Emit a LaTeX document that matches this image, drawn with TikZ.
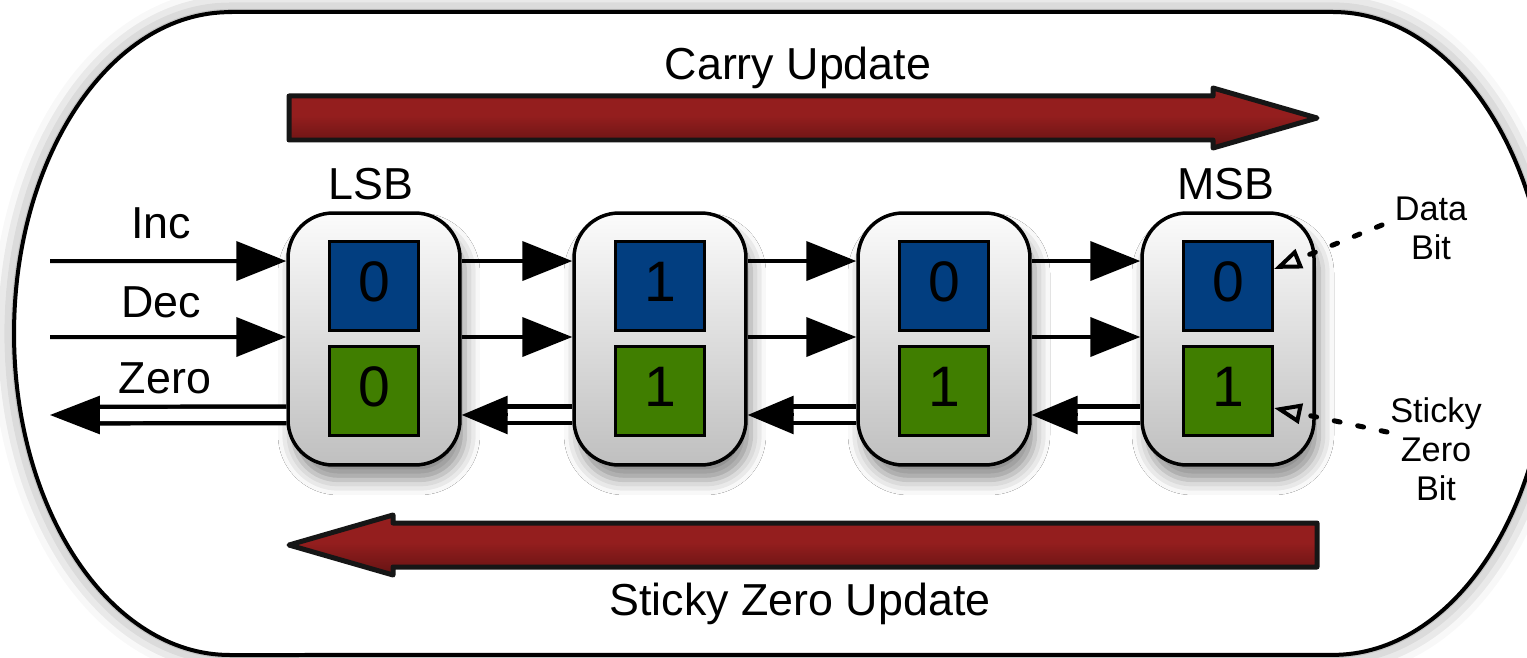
\documentclass[tikz,border=0pt]{standalone}
\usepackage{fontspec}
\setmainfont{Liberation Sans}
\usetikzlibrary{arrows.meta,shadows.blur}

\definecolor{bitblue}{RGB}{2,62,128}
\definecolor{bitgreen}{RGB}{64,126,0}
\definecolor{redtop}{RGB}{140,66,66}
\definecolor{redmid}{RGB}{148,30,30}
\definecolor{redlow}{RGB}{105,20,20}
\definecolor{redbot}{RGB}{66,10,10}
\definecolor{rim}{RGB}{22,22,22}

% vertical gradient of the two wide update arrows (bottom -> top)
\pgfdeclareverticalshading{redbar}{100bp}{
  color(0bp)=(redbot); color(28bp)=(redlow); color(52bp)=(redmid);
  color(70bp)=(redmid); color(100bp)=(redtop)}

\tikzset{
  outline/.style={draw=black, line width=0.08cm, fill=white,
    blur shadow={shadow xshift=0cm, shadow yshift=0cm,
      shadow blur radius=0.45cm, shadow opacity=45}},
  bigarrow/.style={draw=rim, line width=0.1cm, line join=round,
    shading=redbar},
  lbl/.style={font=\fontsize{25.5}{30}\selectfont, inner sep=0pt},
  smalllbl/.style={font=\fontsize{19.5}{22.2}\selectfont, inner sep=0pt, align=center},
  cell/.style={draw=black, line width=0.07cm, rounded corners=0.9cm,
    top color=gray!3, bottom color=gray!50,
    minimum width=3.44cm, minimum height=5.04cm, inner sep=0pt,
    blur shadow={shadow xshift=0.1cm, shadow yshift=-0.3cm,
      shadow blur radius=0.3cm, shadow opacity=45}},
  bitbox/.style={draw=black, line width=0.06cm, minimum width=1.78cm,
    minimum height=1.78cm, inner sep=0pt, text depth=0.16cm,
    font=\fontsize{32.5}{36}\selectfont},
  databit/.style={bitbox, fill=bitblue},
  zerobit/.style={bitbox, fill=bitgreen},
  sig/.style={draw=black, line width=0.08cm,
    -{Triangle[length=1.0cm, width=0.78cm, fill=black]}},
  zline/.style={draw=black, double=white, line width=0.09cm, double distance=0.24cm},
  ztip/.style={draw=black, line width=0.06cm,
    -{Triangle[length=0.92cm, width=0.76cm, fill=black]}},
  ztipout/.style={draw=black, line width=0.06cm,
    -{Triangle[length=1.0cm, width=0.76cm, fill=black]}},
  pointer/.style={draw=black, line width=0.1cm, line cap=round,
    dash pattern=on 0.12cm off 0.36cm,
    -{Triangle[open, length=0.55cm, width=0.4cm, line width=0.08cm]}},
}

\begin{document}
\begin{tikzpicture}[x=0.02cm, y=0.02cm]
\useasboundingbox (0,0) rectangle (1527,657);
\clip (0,0) rectangle (1527,657);

% rounded frame around the whole counter
\path[outline] (230,645) -- (1333,645)
  arc[start angle=90, end angle=-90, x radius=4.32cm, y radius=6.43cm]
  -- (230,2)
  arc[start angle=-90, end angle=-270, x radius=4.32cm, y radius=6.43cm]
  -- cycle;

% carry propagation (LSB -> MSB)
\draw[bigarrow] (289,561) -- (1213,561) -- (1213,569) -- (1317,539)
  -- (1213,509) -- (1213,517) -- (289,517) -- cycle;
\node[lbl, anchor=base] (carry) at (798,577) {Carry Update};

% sticky zero propagation (MSB -> LSB)
\draw[bigarrow] (1317,134) -- (393,134) -- (393,142) -- (289,112)
  -- (393,82) -- (393,90) -- (1317,90) -- cycle;
\node[lbl, anchor=base] (stickyupd) at (800,42) {Sticky Zero Update};

% bit cells
\node[cell] (c1) at (374,318) {};
\node[cell] (c2) at (660,318) {};
\node[cell] (c3) at (944,318) {};
\node[cell] (c4) at (1228,318) {};

\node[databit] (b1) at (374,371) {0};
\node[databit] (b2) at (660,371) {1};
\node[databit] (b3) at (944,371) {0};
\node[databit] (b4) at (1228,371) {0};

\node[zerobit] (g1) at (374,266) {0};
\node[zerobit] (g2) at (660,266) {1};
\node[zerobit] (g3) at (944,266) {1};
\node[zerobit] (g4) at (1228,266) {1};

\node[lbl, anchor=base] (lsb) at (371,458) {LSB};
\node[lbl, anchor=base] (msb) at (1226,458) {MSB};

% external inputs and output
\coordinate (incin) at (50,396);
\coordinate (decin) at (50,320);
\coordinate (zout) at (50,242);
\node[lbl, anchor=base] (inc) at (161,419) {Inc};
\node[lbl, anchor=base] (dec) at (161,340) {Dec};
\node[lbl, anchor=base] (zero) at (165,264) {Zero};

\draw[sig] (incin) -- ([yshift=1.56cm]c1.west);
\draw[sig] (decin) -- ([yshift=0.04cm]c1.west);
\draw[zline] ([yshift=-1.52cm]c1.west) -- ([xshift=0.96cm]zout);
\draw[ztipout] ([xshift=1.0cm]zout) -- (zout);

% links between neighbouring cells
\foreach \a/\b in {c1/c2, c2/c3, c3/c4}{
  \draw[sig] ([yshift=1.56cm]\a.east) -- ([yshift=1.56cm]\b.west);
  \draw[sig] ([yshift=0.04cm]\a.east) -- ([yshift=0.04cm]\b.west);
  \draw[zline] ([yshift=-1.52cm]\b.west) -- ([xshift=0.88cm, yshift=-1.52cm]\a.east);
  \draw[ztip] ([xshift=0.92cm, yshift=-1.52cm]\a.east) -- ([yshift=-1.52cm]\a.east);
}

% callouts for the two bits of a cell
\node[smalllbl, anchor=north] (datalbl) at (1431,460) {Data\\Bit};
\node[smalllbl, anchor=north] (stickylbl) at (1436,260) {Sticky\\Zero\\Bit};
\coordinate (dtail) at (1382,432);
\coordinate (stail) at (1387,225);
\draw[pointer] (dtail) -- ([yshift=0.34cm]b4.east);
\draw[pointer] (stail) -- ([yshift=-0.34cm]g4.east);
\end{tikzpicture}
\end{document}
